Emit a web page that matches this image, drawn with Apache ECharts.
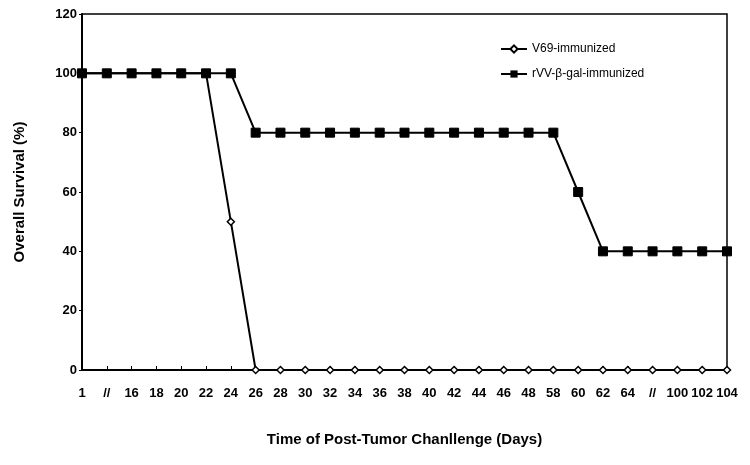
<!DOCTYPE html>
<html>
<head>
<meta charset="utf-8">
<script src="https://cdn.jsdelivr.net/npm/echarts@6/dist/echarts.min.js"></script>
<style>
  html, body { margin: 0; padding: 0; background: #fff; }
  #chart { width: 750px; height: 465px; }
</style>
</head>
<body>
<div id="chart"></div>
<script>
// days after tumor challenge ("//" marks an axis break)
var days = ['1', '//', '16', '18', '20', '22', '24', '26', '28', '30', '32', '34', '36', '38',
            '40', '42', '44', '46', '48', '58', '60', '62', '64', '//', '100', '102', '104'];
var v69 = [100, 100, 100, 100, 100, 100, 50, 0, 0, 0, 0, 0, 0, 0,
           0, 0, 0, 0, 0, 0, 0, 0, 0, 0, 0, 0, 0];
var rvvGal = [100, 100, 100, 100, 100, 100, 100, 80, 80, 80, 80, 80, 80, 80,
              80, 80, 80, 80, 80, 80, 60, 40, 40, 40, 40, 40, 40];
var yTicks = [0, 20, 40, 60, 80, 100, 120];

var font = 'Liberation Sans, Arial, sans-serif';
var chart = echarts.init(document.getElementById('chart'));

chart.setOption({
    animation: false,
    backgroundColor: '#fff',
    grid: {
        left: 82, right: 23, top: 14, bottom: 95,
        outerBoundsMode: 'none',
        show: true, borderColor: '#000', borderWidth: 1.5
    },
    legend: {
        left: 495, top: 38, orient: 'vertical', itemGap: 13,
        itemWidth: 26, itemHeight: 9,
        textStyle: { fontFamily: font, fontSize: 12, color: '#000' },
        data: ['V69-immunized', 'rVV-β-gal-immunized']
    },
    xAxis: {
        type: 'category',
        data: days,
        boundaryGap: false,
        name: 'Time of Post-Tumor Chanllenge (Days)',
        nameLocation: 'middle',
        nameGap: 62,
        nameTextStyle: { fontFamily: font, fontSize: 15, fontWeight: 'bold', color: '#000' },
        axisLine: { lineStyle: { color: '#000', width: 2 } },
        axisTick: { inside: true, length: 4, alignWithLabel: true, lineStyle: { color: '#000' } },
        axisLabel: { interval: 0, margin: 17, fontFamily: font, fontSize: 13, fontWeight: 'bold', color: '#000' }
    },
    yAxis: {
        type: 'value',
        min: yTicks[0],
        max: yTicks[yTicks.length - 1],
        interval: 20,
        name: 'Overall Survival (%)',
        nameLocation: 'middle',
        nameGap: 55,
        nameTextStyle: { fontFamily: font, fontSize: 15, fontWeight: 'bold', color: '#000' },
        axisLine: { show: true, lineStyle: { color: '#000', width: 2 } },
        axisTick: { show: true, length: 3, lineStyle: { color: '#000' } },
        splitLine: { show: false },
        axisLabel: { margin: 5, fontFamily: font, fontSize: 13, fontWeight: 'bold', color: '#000' }
    },
    series: [
        {
            name: 'V69-immunized',
            type: 'line',
            data: v69,
            symbol: 'diamond',
            symbolSize: 7,
            z: 3,
            lineStyle: { color: '#000', width: 2 },
            itemStyle: { color: '#fff', borderColor: '#000', borderWidth: 1.5 }
        },
        {
            name: 'rVV-β-gal-immunized',
            type: 'line',
            data: rvvGal,
            symbol: 'rect',
            symbolSize: 9,
            z: 4,
            lineStyle: { color: '#000', width: 2 },
            itemStyle: { color: '#000', borderColor: '#000' }
        }
    ]
});
</script>
</body>
</html>
